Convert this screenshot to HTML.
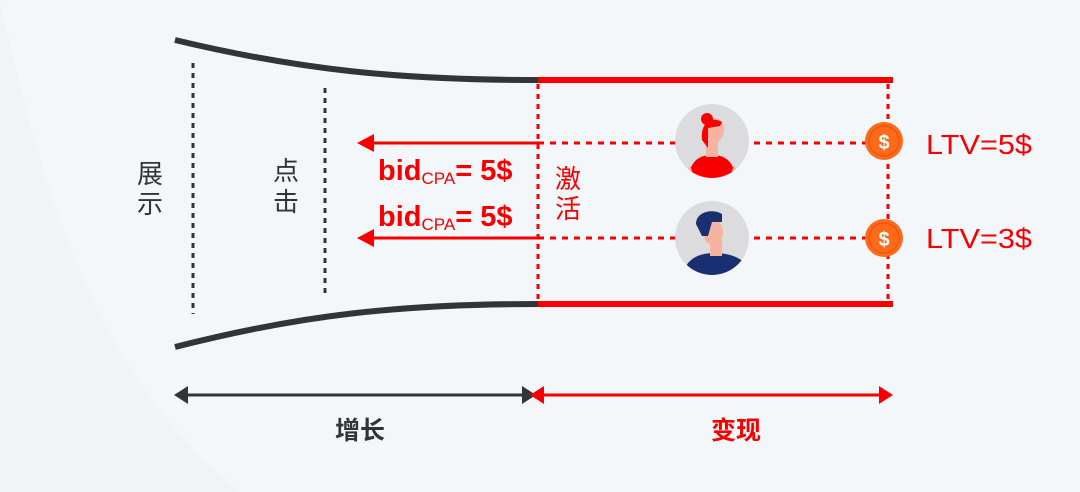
<!DOCTYPE html>
<html><head><meta charset="utf-8"><style>
html,body{margin:0;padding:0;width:1080px;height:492px;overflow:hidden;background:#f4f7f9}
svg{display:block}
text{font-family:"Liberation Sans","Noto Sans CJK SC",sans-serif}
</style></head><body>
<svg width="1080" height="492" viewBox="0 0 1080 492" xmlns="http://www.w3.org/2000/svg">
<defs>
<clipPath id="c1"><circle cx="712" cy="141" r="37"/></clipPath>
<clipPath id="c2"><circle cx="712" cy="238" r="37"/></clipPath>
</defs>
<rect width="1080" height="492" fill="#f4f7f9"/>
<path d="M0 0 L0 492 L240 492 C130 400 60 280 0 0Z" fill="#eef1f4" opacity="0.5"/>
<path d="M175 40 C300 70 400 80 538 80" stroke="#333438" stroke-width="6" fill="none"/>
<path d="M175 347 C300 315 400 304 538 304" stroke="#333438" stroke-width="6" fill="none"/>
<line x1="538" y1="80" x2="893" y2="80" stroke="#f90000" stroke-width="6"/>
<line x1="538" y1="304" x2="893" y2="304" stroke="#f90000" stroke-width="6"/>
<line x1="193" y1="63" x2="193" y2="314" stroke="#333438" stroke-width="3" stroke-dasharray="5 5"/>
<line x1="325" y1="88" x2="325" y2="293" stroke="#333438" stroke-width="3" stroke-dasharray="5 5"/>
<line x1="538" y1="84" x2="538" y2="302" stroke="#f90000" stroke-width="3" stroke-dasharray="5 5"/>
<line x1="888" y1="84" x2="888" y2="302" stroke="#f90000" stroke-width="3" stroke-dasharray="5 5"/>
<line x1="538" y1="143" x2="870" y2="143" stroke="#f90000" stroke-width="3" stroke-dasharray="6 6"/>
<line x1="538" y1="238" x2="870" y2="238" stroke="#f90000" stroke-width="3" stroke-dasharray="6 6"/>
<line x1="372" y1="143" x2="538" y2="143" stroke="#f90000" stroke-width="3"/>
<polygon points="357,143 374,134 374,152" fill="#f90000"/>
<line x1="372" y1="238" x2="538" y2="238" stroke="#f90000" stroke-width="3"/>
<polygon points="357,238 374,229 374,247" fill="#f90000"/>
<circle cx="712" cy="141" r="37" fill="#dcdcdf"/>
<g clip-path="url(#c1)">
<path d="M688 180 C690 160 700 155 712 155 C724 155 734 160 736 180Z" fill="#f90000"/>
<path d="M684 178 L690 165 L695 180Z M740 178 L734 165 L729 180Z" fill="#f5b4a0"/>
<rect x="706" y="140" width="12" height="17" fill="#f5b4a0"/>
<ellipse cx="715" cy="130" rx="9" ry="12" fill="#f5b4a0"/>
<path d="M702 140 C700 122 712 116 722 122 L720 126 L708 128 L708 148Z" fill="#f90000"/>
<circle cx="707" cy="119" r="6" fill="#f90000"/>
</g>
<circle cx="712" cy="238" r="37" fill="#dcdcdf"/>
<g clip-path="url(#c2)">
<path d="M682 276 C686 258 700 253 714 253 C730 253 744 258 750 270 L750 276Z" fill="#1a2f72"/>
<rect x="710" y="238" width="12" height="18" fill="#f5b4a0"/>
<ellipse cx="713" cy="232" rx="10" ry="13" fill="#f5b4a0"/>
<path d="M696 224 C696 212 712 208 722 214 L722 222 L712 222 L708 236 L702 236Z" fill="#1a2f72"/>
</g>
<circle cx="884" cy="141" r="19" fill="#ff6a1a"/>
<circle cx="884" cy="141" r="15" fill="none" stroke="#e85a10" stroke-width="1.5"/>
<text x="884" y="149" font-size="20" font-weight="bold" fill="#fff" text-anchor="middle">$</text>
<circle cx="884" cy="238" r="19" fill="#ff6a1a"/>
<circle cx="884" cy="238" r="15" fill="none" stroke="#e85a10" stroke-width="1.5"/>
<text x="884" y="246" font-size="20" font-weight="bold" fill="#fff" text-anchor="middle">$</text>
<text x="926" y="154" font-size="28" fill="#f90000" textLength="106" lengthAdjust="spacingAndGlyphs">LTV=5$</text>
<text x="926" y="248" font-size="28" fill="#f90000" textLength="106" lengthAdjust="spacingAndGlyphs">LTV=3$</text>
<text x="378" y="180" fill="#f90000" font-weight="bold"><tspan font-size="29">bid</tspan><tspan font-size="17" font-weight="normal" dy="4">CPA</tspan><tspan font-size="29" dy="-4">= 5$</tspan></text>
<text x="378" y="226" fill="#f90000" font-weight="bold"><tspan font-size="29">bid</tspan><tspan font-size="17" font-weight="normal" dy="4">CPA</tspan><tspan font-size="29" dy="-4">= 5$</tspan></text>
<text x="555" y="188" font-size="26" fill="#f90000">激</text>
<text x="555" y="218" font-size="26" fill="#f90000">活</text>
<text x="137" y="183" font-size="26" fill="#333438">展</text>
<text x="137" y="213" font-size="26" fill="#333438">示</text>
<text x="273" y="180" font-size="26" fill="#333438">点</text>
<text x="273" y="211" font-size="26" fill="#333438">击</text>
<line x1="185" y1="395" x2="524" y2="395" stroke="#333438" stroke-width="3"/>
<polygon points="174,395 188,386 188,404" fill="#333438"/>
<polygon points="536,395 522,386 522,404" fill="#333438"/>
<line x1="542" y1="395" x2="882" y2="395" stroke="#f90000" stroke-width="3"/>
<polygon points="530,395 544,386 544,404" fill="#f90000"/>
<polygon points="893,395 879,386 879,404" fill="#f90000"/>
<text x="360" y="439" font-size="25" font-weight="bold" fill="#333438" text-anchor="middle">增长</text>
<text x="736" y="439" font-size="25" font-weight="bold" fill="#f90000" text-anchor="middle">变现</text>
</svg>
</body></html>
